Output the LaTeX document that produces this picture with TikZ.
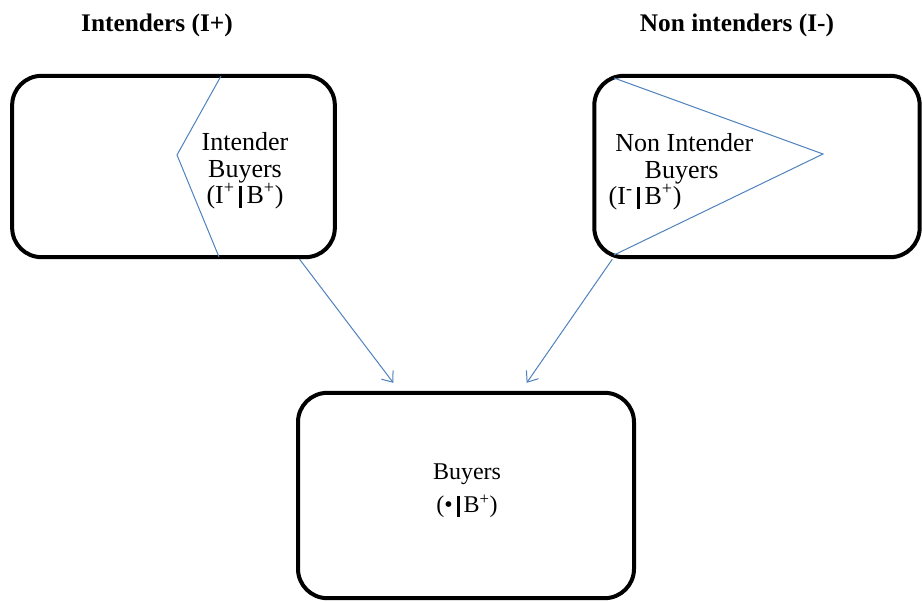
\documentclass[tikz,border=0pt]{standalone}
\usepackage{fontspec}
\setmainfont{Liberation Serif}
\usetikzlibrary{arrows.meta}
\definecolor{lineblue}{RGB}{79,129,189}

\begin{document}
\begin{tikzpicture}[
    x=.75pt,
    y=-.75pt,
    box/.style={
      draw,
      line width=3pt,
      rounded corners=22pt,
      inner sep=0,
    },
    boxtext/.style={
      inner sep=0,
      align=center,
      font=\fontsize{19.5}{20}\selectfont,
    },
    grouptitle/.style={
      inner sep=0,
      font=\bfseries\fontsize{19}{21}\selectfont,
    },
    split/.style={
      color=lineblue,
      line width=.75pt,
    },
    flow/.style={
      color=lineblue,
      line width=.75pt,
      -{Straight Barb[length=7pt,width=11pt]},
    },
  ]
    \newcommand\given{\,\rule[-.15em]{.12em}{.85em}\,}

    \useasboundingbox (0,0) rectangle (922,601);

    % group titles
    \node[grouptitle] (ititle) at (157,25) {Intenders (I+)};
    \node[grouptitle] (ntitle) at (737,25) {Non intenders (I-)};

    % the three boxes
    \node[box,minimum width=242pt,minimum height=136pt] (ibox) at (173.5,166.5) {};
    \node[box,minimum width=244pt,minimum height=136pt] (nbox) at (757,166.5) {};
    \node[box,minimum width=252pt,minimum height=154pt] (bbox) at (466,495.5) {};

    % blue split lines inside the boxes
    \draw[split] (221,76) -- (177,155) -- (219,257);
    \draw[split] (614,78) -- (823,154) -- (614,255);

    \node[boxtext] (itext) at (245,171)
      {Intender\\Buyers\\(I\textsuperscript{+}\given B\textsuperscript{+})};
    \node[boxtext,align=left] (ntext) at (681,172)
      {\hspace*{5pt}Non Intender\\\hspace*{27pt}Buyers\\(I\textsuperscript{-}\given B\textsuperscript{+})};
    \node[boxtext,font=\fontsize{18}{25}\selectfont] (btext) at (467,491)
      {Buyers\\(\textbullet\given B\textsuperscript{+})};

    % connectors
    \draw[flow] ([xshift=-28pt]ibox.south east) -- ([xshift=73pt,yshift=6pt]bbox.north west);
    \draw[flow] ([xshift=15pt]nbox.south west) -- ([xshift=-82pt,yshift=6pt]bbox.north east);
  \end{tikzpicture}
\end{document}
